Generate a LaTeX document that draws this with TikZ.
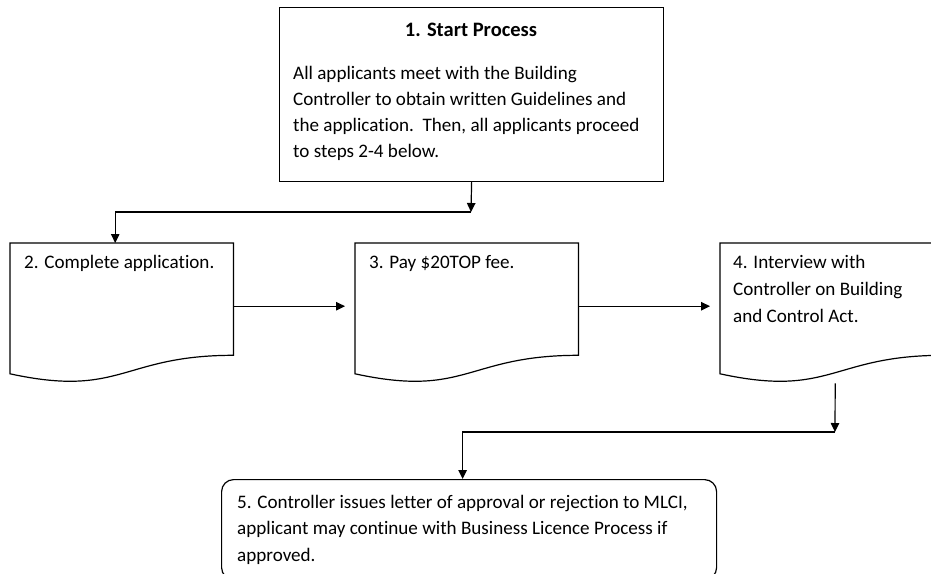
\documentclass[tikz,border=0pt]{standalone}
\usepackage{fontspec}
\setmainfont{Carlito}[Ligatures=NoCommon]
\usetikzlibrary{arrows.meta}
\newcommand\docoutline[1]{%
  \draw[outline] (#1.north west) -- (#1.north east) -- ([yshift=-112.3pt]#1.north east)
    .. controls ([yshift=-112.3pt]#1.north) and ([yshift=-155.1pt]#1.north) .. ([yshift=-130.8pt]#1.north west) -- cycle;}
\begin{document}
\begin{tikzpicture}[x=1pt,y=-1pt,
  outline/.style={line width=1.2pt},
  docbox/.style={draw=none,minimum width=223pt,minimum height=140pt,anchor=north west,inner sep=0pt},
  plainbox/.style={draw,line width=1.2pt,anchor=north west,inner sep=0pt},
  txt/.style={anchor=base west,inner sep=0pt,font=\fontsize{19.1}{26}\selectfont},
  arr/.style={line width=1.2pt,-{Triangle[length=9pt,width=8.5pt]}}]
\useasboundingbox (0,0) rectangle (931,573);
% box 1
\node[plainbox,minimum width=384pt,minimum height=174pt] (b1) at (279,7) {};
\node[anchor=base,inner sep=0pt,font=\fontsize{20.5}{26}\selectfont\bfseries] (t1h) at (471,36) {1. Start Process};
\node[txt] (t1) at (293,79.7) {\parbox[t]{400pt}{\raggedright All applicants meet with the Building\\Controller to obtain written Guidelines and\\the application.\ \ Then, all applicants proceed\\to steps 2-4 below.}};
% document boxes
\node[docbox] (b2) at (10,243) {};
\node[docbox] (b3) at (355,243) {};
\node[docbox] (b4) at (720,243) {};
\docoutline{b2}
\docoutline{b3}
\docoutline{b4}
\node[txt] (t2) at (24,268.7) {2. Complete application.};
\node[txt] (t3) at (369,268.7) {3. Pay \$20TOP fee.};
\node[txt,font=\fontsize{19.1}{26.8}\selectfont] (t4) at (733,268.7) {\parbox[t]{300pt}{\raggedright 4. Interview with\\Controller on Building\\and Control Act.}};
% box 5
\node[plainbox,rounded corners=12pt,minimum width=495pt,minimum height=100pt] (b5) at (221,479) {};
\node[txt,font=\fontsize{19.1}{26.3}\selectfont] (t5) at (237,508.4) {\parbox[t]{600pt}{\raggedright 5. Controller issues letter of approval or rejection to MLCI,\\applicant may continue with Business Licence Process if\\approved.}};
% connectors
\coordinate (j1) at (471,212);
\coordinate (j2) at (835,432);
\draw[arr] (b1.south) -- (j1);
\draw[arr] (j1) -| ([xshift=-6.5pt]b2.north);
\draw[arr,shorten >=10pt] ([yshift=7pt]b2.east) -- ([yshift=7pt]b3.west);
\draw[arr,shorten >=10pt] ([yshift=7pt]b3.east) -- ([yshift=7pt]b4.west);
\draw[arr] ([xshift=3.5pt]b4.south) -- (j2);
\draw[arr] (j2) -| ([xshift=-6.5pt]b5.north);
\end{tikzpicture}
\end{document}
